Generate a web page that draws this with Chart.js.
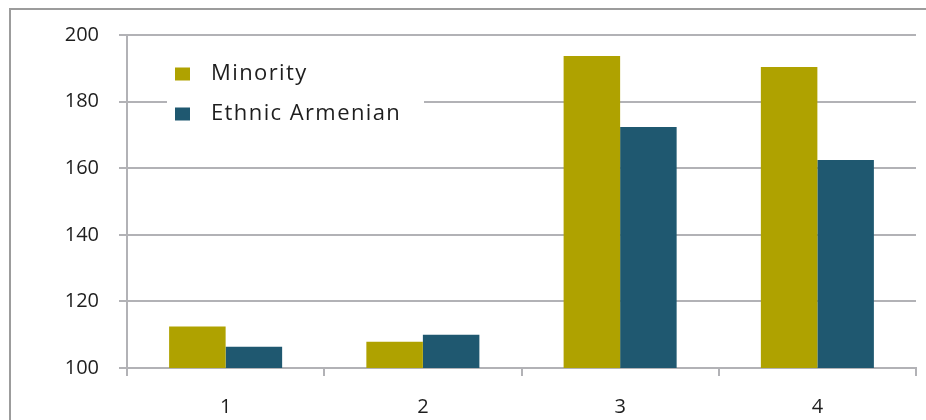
<!DOCTYPE html>
<html>
<head>
<meta charset="utf-8">
<script src="https://cdn.jsdelivr.net/npm/chart.js@4/dist/chart.umd.min.js"></script>
<style>
  html, body { margin: 0; padding: 0; background: #ffffff; }
  #wrap { width: 926px; height: 420px; }
</style>
</head>
<body>
<div id="wrap"><canvas id="c" width="926" height="420"></canvas></div>
<script>
// Category labels along the x axis
const categories = ['1', '2', '3', '4'];

// Series values
const minority = [112.5, 107.9, 193.7, 190.4];
const ethnicArmenian = [106.4, 110.0, 172.4, 162.5];

// Value axis ticks
const yTicks = [100, 120, 140, 160, 180, 200];

const GOLD = 'rgb(175,162,0)';
const TEAL = 'rgb(31,88,112)';
const GRID = '#b2b2b6';
const TEXT = '#1e1e1e';
const FONT = '"Open Sans", "DejaVu Sans", sans-serif';

// Thin frame around the whole chart
const framePlugin = {
  id: 'frame',
  beforeDraw(chart) {
    const ctx = chart.ctx;
    ctx.save();
    ctx.fillStyle = '#ffffff';
    ctx.fillRect(0, 0, chart.width, chart.height);
    ctx.strokeStyle = '#9c9c9c';
    ctx.lineWidth = 2;
    ctx.beginPath();
    ctx.moveTo(10, chart.height + 2);
    ctx.lineTo(10, 9);
    ctx.lineTo(chart.width + 2, 9);
    ctx.stroke();
    ctx.restore();
  }
};

// Legend drawn inside the plot, on a white box
const insideLegend = {
  id: 'insideLegend',
  afterDatasetsDraw(chart) {
    const ctx = chart.ctx;
    ctx.save();
    ctx.fillStyle = '#ffffff';
    ctx.fillRect(167, 48, 257, 80);
    ctx.font = '22px ' + FONT;
    ctx.letterSpacing = '1.4px';
    ctx.textBaseline = 'middle';
    ctx.textAlign = 'left';
    chart.data.datasets.forEach((ds, i) => {
      const cy = 74 + i * 40;
      ctx.fillStyle = ds.backgroundColor;
      ctx.fillRect(175, cy - 6.5, 15, 13);
      ctx.fillStyle = TEXT;
      ctx.fillText(ds.label, 211, cy);
    });
    ctx.restore();
  }
};

new Chart(document.getElementById('c'), {
  type: 'bar',
  data: {
    labels: categories,
    datasets: [
      { label: 'Minority', data: minority, backgroundColor: GOLD },
      { label: 'Ethnic Armenian', data: ethnicArmenian, backgroundColor: TEAL }
    ]
  },
  options: {
    responsive: false,
    animation: false,
    devicePixelRatio: 1,
    datasets: {
      bar: { categoryPercentage: 0.573, barPercentage: 1.0, borderWidth: 0 }
    },
    layout: { padding: { top: 35, right: 10, bottom: 0, left: 0 } },
    plugins: {
      legend: { display: false },
      tooltip: { enabled: false }
    },
    scales: {
      x: {
        grid: {
          offset: true,
          drawOnChartArea: false,
          drawTicks: true,
          tickLength: 8,
          color: GRID,
          lineWidth: 2
        },
        border: { display: true, color: GRID, width: 2 },
        ticks: {
          color: TEXT,
          font: { family: FONT, size: 20 },
          padding: 19
        },
        afterFit(scale) { scale.height = 52; }
      },
      y: {
        min: 100,
        max: 200,
        afterBuildTicks(scale) {
          scale.ticks = yTicks.map(v => ({ value: v }));
        },
        grid: {
          color: GRID,
          lineWidth: 2,
          tickLength: 8,
          drawTicks: true
        },
        border: { display: true, color: GRID, width: 2 },
        ticks: {
          color: TEXT,
          font: { family: FONT, size: 20 },
          padding: 20
        },
        afterFit(scale) { scale.width = 127; }
      }
    }
  },
  plugins: [framePlugin, insideLegend]
});
</script>
</body>
</html>
